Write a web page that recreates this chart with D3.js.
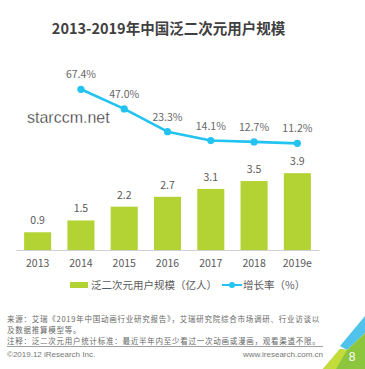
<!DOCTYPE html>
<html><head><meta charset="utf-8">
<script src="https://cdn.jsdelivr.net/npm/d3@7"></script>
<style>
html,body{margin:0;padding:0;background:#fff;}
svg{display:block;}
</style></head>
<body>
<svg id="c" width="365" height="369"></svg>
<script>
const years = ["2013","2014","2015","2016","2017","2018","2019e"];
const users = [0.9, 1.5, 2.2, 2.7, 3.1, 3.5, 3.9];
const growthYears = ["2014","2015","2016","2017","2018","2019e"];
const growth = [67.4, 47.0, 23.3, 14.1, 12.7, 11.2];
const titleText = "2013-2019年中国泛二次元用户规模";
const legendLabels = ["泛二次元用户规模（亿人）", "增长率（%）"];
const footLines = [
  "来源：艾瑞《2019年中国动画行业研究报告》，艾瑞研究院综合市场调研、行业访谈以",
  "及数据推算模型等。",
  "注释：泛二次元用户统计标准：最近半年内至少看过一次动画或漫画，观看渠道不限。"
];

const FONT = "'Noto Sans CJK SC','Microsoft YaHei',sans-serif";
const svg = d3.select("#c");
const barColor = "#b3d334", lineColor = "#22c3f0", txt = "#595959";

svg.append("text").attr("x", 168.5).attr("y", 34).attr("text-anchor","middle")
  .attr("font-family", FONT).attr("font-weight","bold").attr("font-size", 14.5)
  .attr("fill","#404040").text(titleText);

const x = d3.scaleBand().domain(years).range([16, 319]).paddingInner(0.375).paddingOuter(0.1875);
const yBar = d3.scaleLinear().domain([0, 4]).range([250, 171.2]);
const yLine = d3.scaleLinear().domain([0, 70]).range([154.1, 86.8]);

// bars
svg.append("g").selectAll("rect").data(years).join("rect")
  .attr("x", d => x(d)).attr("width", x.bandwidth())
  .attr("y", (d,i) => yBar(users[i])).attr("height", (d,i) => yBar(0) - yBar(users[i]))
  .attr("fill", barColor);
svg.append("g").selectAll("text").data(years).join("text")
  .attr("x", d => x(d) + x.bandwidth()/2).attr("y", (d,i) => yBar(users[i]) - 8)
  .attr("text-anchor","middle").attr("font-family", FONT).attr("font-size", 10.5)
  .attr("fill", txt).text((d,i) => users[i].toFixed(1));

// x axis
const xAxis = d3.axisBottom(x).tickSize(0).tickPadding(10);
const ax = svg.append("g").attr("transform","translate(0,250)").call(xAxis);
ax.select(".domain").attr("stroke","#d0d0d0").attr("stroke-width",1);
ax.selectAll("text").attr("font-family", FONT).attr("font-size", 10.5).attr("fill", txt);

// line
const cx = d => x(d) + x.bandwidth()/2;
const line = d3.line().x(d => cx(d)).y((d,i) => yLine(growth[i]));
svg.append("path").datum(growthYears).attr("d", line).attr("fill","none")
  .attr("stroke", lineColor).attr("stroke-width", 2.6).attr("stroke-linejoin","round");
svg.append("g").selectAll("circle").data(growthYears).join("circle")
  .attr("cx", cx).attr("cy", (d,i) => yLine(growth[i])).attr("r", 3.6).attr("fill", lineColor);
svg.append("g").selectAll("text").data(growthYears).join("text")
  .attr("x", cx).attr("y", (d,i) => yLine(growth[i]) - 11)
  .attr("text-anchor","middle").attr("font-family", FONT).attr("font-size", 10.5)
  .attr("fill", "#666").text((d,i) => growth[i].toFixed(1) + "%");

// watermark
svg.append("text").attr("x", 27).attr("y", 123).attr("font-family","'Liberation Sans',Arial,sans-serif")
  .attr("font-size", 16).attr("fill","#333").attr("stroke","#fff").attr("stroke-width",0.3)
  .text("starccm.net");

// legend
const lg = svg.append("g");
lg.append("rect").attr("x", 70).attr("y", 282).attr("width", 18).attr("height", 6).attr("fill", barColor);
lg.append("text").attr("x", 91).attr("y", 289).attr("font-family", FONT).attr("font-size", 10.5)
  .attr("fill", txt).text(legendLabels[0]);
lg.append("line").attr("x1", 222).attr("x2", 242).attr("y1", 285).attr("y2", 285)
  .attr("stroke", lineColor).attr("stroke-width", 2);
lg.append("circle").attr("cx", 232).attr("cy", 285).attr("r", 3).attr("fill", lineColor);
lg.append("text").attr("x", 243).attr("y", 289).attr("font-family", FONT).attr("font-size", 10.5)
  .attr("fill", txt).text(legendLabels[1]);

// footer
const fy = [322, 333, 344];
svg.append("g").selectAll("text").data(footLines).join("text")
  .attr("x", 7).attr("y", (d,i) => fy[i]).attr("font-family", FONT).attr("font-size", 7.5)
  .attr("letter-spacing", 0.75)
  .attr("fill", "#666").text(d => d);
svg.append("line").attr("x1", 7).attr("x2", 323).attr("y1", 346.5).attr("y2", 346.5)
  .attr("stroke","#888").attr("stroke-width",0.8);
svg.append("text").attr("x", 7).attr("y", 357).attr("font-family","'Liberation Sans',Arial,sans-serif")
  .attr("font-size", 8).attr("fill","#777").text("©2019.12 iResearch Inc.");
svg.append("text").attr("x", 323).attr("y", 357).attr("text-anchor","end")
  .attr("font-family","'Liberation Sans',Arial,sans-serif")
  .attr("font-size", 8).attr("fill","#777").text("www.iresearch.com.cn");

// corner decoration
svg.append("polygon").attr("points","365,316 365,333 347,350 340,346").attr("fill","#4fc3ec");
svg.append("polygon").attr("points","340,349 347,350 365,333 365,369 323,369").attr("fill","#8cc63f");
svg.append("polygon").attr("points","340,349 347,350 336,369 323,369").attr("fill","#c3dc3a");
svg.append("text").attr("x", 352).attr("y", 361).attr("text-anchor","middle")
  .attr("font-family","'Liberation Sans',Arial,sans-serif").attr("font-size", 12).attr("fill","#fff").text("8");
</script>
</body></html>
